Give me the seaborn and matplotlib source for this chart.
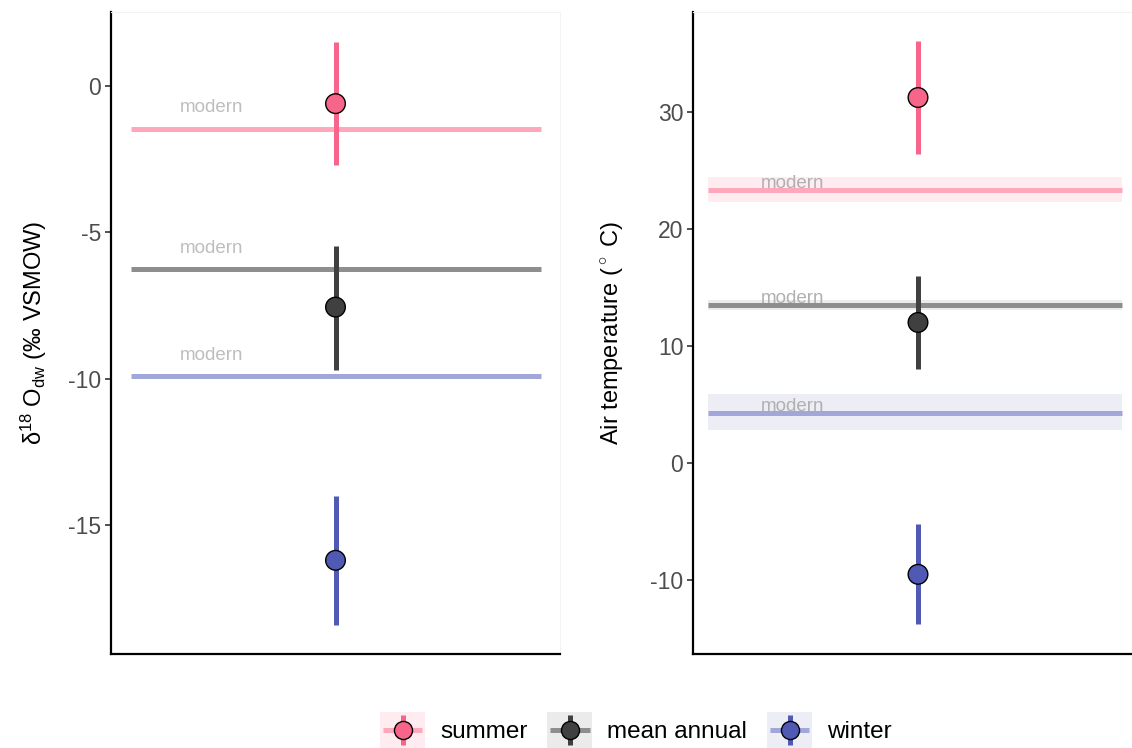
import matplotlib
matplotlib.use("Agg")
import matplotlib.pyplot as plt
from matplotlib.patches import Rectangle
from matplotlib.lines import Line2D
from matplotlib.legend_handler import HandlerBase
import seaborn as sns
import pandas as pd

# ---------------- data ----------------
seasons = ["summer", "mean annual", "winter"]

d18o_mean = [-0.6, -7.55, -16.2]
d18o_low = [-2.7, -9.7, -18.4]
d18o_high = [1.5, -5.45, -14.0]
d18o_modern = [-1.45, -6.25, -9.9]

temp_mean = [31.2, 12.0, -9.5]
temp_low = [26.4, 8.0, -13.7]
temp_high = [36.0, 16.0, -5.2]
temp_modern = [23.3, 13.5, 4.3]
temp_modern_low = [22.3, 13.1, 2.8]
temp_modern_high = [24.4, 13.9, 5.9]

d18o_ticks = [0, -5, -10, -15]
temp_ticks = [30, 20, 10, 0, -10]

# ---------------- style ----------------
point_colors = {"summer": "#F7668A", "mean annual": "#404040", "winter": "#5059B3"}
modern_colors = {"summer": "#FFA8BC", "mean annual": "#8E8E8E", "winter": "#A2A7D9"}
band_colors = {"summer": "#FFECF0", "mean annual": "#EBEBEB", "winter": "#EDEDF6"}

sns.set_theme(style="white")
plt.rcParams["font.family"] = ["Liberation Sans", "DejaVu Sans"]
plt.rcParams["axes.unicode_minus"] = False
plt.rcParams["mathtext.fontset"] = "custom"
plt.rcParams["mathtext.rm"] = "Liberation Sans"
plt.rcParams["mathtext.it"] = "Liberation Sans:italic"

W, H = 1132, 748
fig = plt.figure(figsize=(W / 100, H / 100), dpi=100)
fig.patch.set_facecolor("white")

ax1 = fig.add_axes([111 / W, 1 - 654 / H, 449 / W, 642 / H])
ax2 = fig.add_axes([693 / W, 1 - 654 / H, 450 / W, 642 / H])

df1 = pd.DataFrame({"season": seasons, "x": [0] * 3, "value": d18o_mean,
                    "low": d18o_low, "high": d18o_high, "modern": d18o_modern})
df2 = pd.DataFrame({"season": seasons, "x": [0] * 3, "value": temp_mean,
                    "low": temp_low, "high": temp_high, "modern": temp_modern,
                    "mlow": temp_modern_low, "mhigh": temp_modern_high})


def style_axes(ax, ylim, ticks, ylabel, labelpad):
    ax.set_xlim(-0.6, 0.6)
    ax.set_ylim(*ylim)
    ax.set_xticks([])
    ax.set_yticks(ticks)
    ax.set_yticklabels([str(t) for t in ticks])
    ax.tick_params(axis="y", length=4.5, width=1.2, color="#333333",
                   labelsize=16.5, labelcolor="#4D4D4D", pad=2.5, left=True)
    for s in ["left", "bottom"]:
        ax.spines[s].set_color("black")
        ax.spines[s].set_linewidth(1.6)
    for s in ["top", "right"]:
        ax.spines[s].set_color("#F3F3F3")
        ax.spines[s].set_linewidth(0.8)
    ax.set_xlabel("")
    ax.set_ylabel(ylabel, fontsize=17, color="black", labelpad=labelpad)
    ax.set_facecolor("white")


# left panel
for _, r in df1.iterrows():
    ax1.axhline(r["modern"], xmin=0.0445, xmax=0.958, color=modern_colors[r["season"]],
                lw=3.6, zorder=1, solid_capstyle="butt")
    ax1.annotate("modern", xy=(0.223, r["modern"]), xycoords=("axes fraction", "data"),
                 xytext=(0, 15), textcoords="offset points", ha="center", va="center",
                 fontsize=13.5, color="#BEBEBE")
ax1.vlines(df1["x"], df1["low"], df1["high"], colors=[point_colors[s] for s in seasons],
           lw=3.6, zorder=2)
sns.scatterplot(data=df1, x="x", y="value", hue="season", palette=point_colors,
                s=200, edgecolor="black", linewidth=1.0, legend=False, ax=ax1, zorder=3)
style_axes(ax1, (-19.4, 2.53), d18o_ticks,
           r"$\mathrm{\delta^{18}}$ O$_{\mathrm{dw}}$ (‰ VSMOW)", 14)

# right panel
for _, r in df2.iterrows():
    ax2.axhspan(r["mlow"], r["mhigh"], xmin=0.033, xmax=0.953,
                color=band_colors[r["season"]], lw=0, zorder=0)
    ax2.axhline(r["modern"], xmin=0.033, xmax=0.953, color=modern_colors[r["season"]],
                lw=3.6, zorder=1, solid_capstyle="butt")
    ax2.annotate("modern", xy=(0.222, r["modern"]), xycoords=("axes fraction", "data"),
                 xytext=(0, 4.5), textcoords="offset points", ha="center", va="center",
                 fontsize=13.5, color="#B0B0B0")
ax2.vlines(df2["x"], df2["low"], df2["high"], colors=[point_colors[s] for s in seasons],
           lw=3.6, zorder=2)
sns.scatterplot(data=df2, x="x", y="value", hue="season", palette=point_colors,
                s=200, edgecolor="black", linewidth=1.0, legend=False, ax=ax2, zorder=3)
style_axes(ax2, (-16.3, 38.5), temp_ticks, r"Air temperature ($^\circ$ C)", 18)


# ---------------- legend ----------------
class KeyHandler(HandlerBase):
    def create_artists(self, legend, orig_handle, xdescent, ydescent, width, height,
                       fontsize, trans):
        season = orig_handle.get_label()
        x0, y0 = -xdescent, -ydescent
        cx, cy = x0 + width / 2, y0 + height / 2
        rect = Rectangle((x0, y0), width, height, facecolor=band_colors[season],
                         edgecolor="none", transform=trans)
        hline = Line2D([x0 + 2, x0 + width - 2], [cy, cy], color=modern_colors[season],
                       lw=3.6, transform=trans, solid_capstyle="butt")
        vline = Line2D([cx, cx], [y0 + 2, y0 + height - 2], color=point_colors[season],
                       lw=3.6, transform=trans, solid_capstyle="butt")
        mk = Line2D([cx], [cy], marker="o", markersize=13.0, markerfacecolor=point_colors[season],
                    markeredgecolor="black", markeredgewidth=1.0, linestyle="none",
                    transform=trans)
        return [rect, hline, vline, mk]


handles = [Line2D([], [], label=s) for s in seasons]
fig.legend(handles=handles, labels=seasons, loc="center", bbox_to_anchor=(636 / W, 1 - 730 / H),
           ncol=3, frameon=False, fontsize=17.5, handler_map={Line2D: KeyHandler()},
           handlelength=1.85, handleheight=1.85, handletextpad=0.62, columnspacing=0.82,
           borderaxespad=0, labelcolor="black")

fig.savefig("out.png", dpi=100, facecolor="white")
